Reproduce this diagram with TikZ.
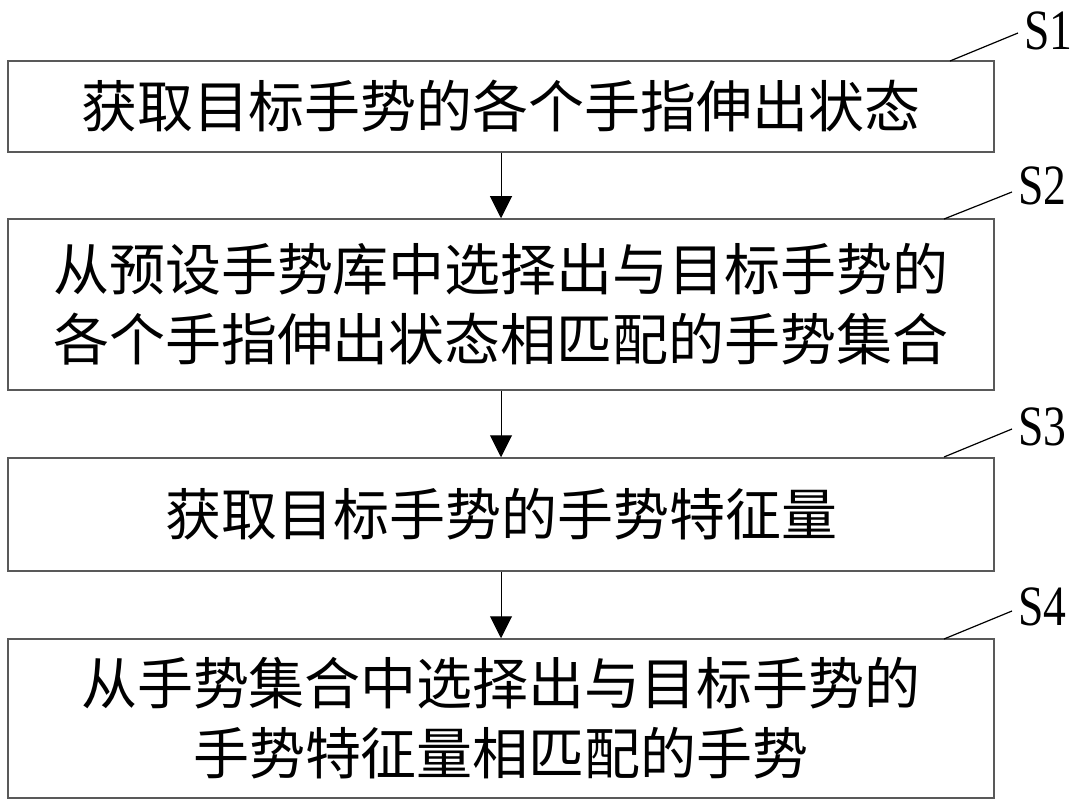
\documentclass[tikz,border=0pt]{standalone}
\usepackage{fontspec}
\usetikzlibrary{arrows.meta}
\newfontfamily\cjk{Noto Sans CJK SC}
\newfontfamily\lblfont[FakeStretch=0.8]{Liberation Serif}
\tikzset{
  stepbox/.style={draw=black!65, line width=1.5pt, rectangle, inner sep=0pt,
    minimum width=986pt, align=center, font=\cjk\fontsize{56}{70}\selectfont},
  flow/.style={line width=1pt, -{Triangle[width=22pt,length=22pt]}},
  leader/.style={line width=1.2pt},
  steplabel/.style={anchor=base west, inner sep=0pt, font=\lblfont\fontsize{57}{57}\selectfont}
}
\begin{document}
\begin{tikzpicture}[x=1pt,y=-1pt]
\useasboundingbox (0,0) rectangle (1085,810);
\node[stepbox, minimum height=91pt] (b1) at (501,106.5) {获取目标手势的各个手指伸出状态};
\node[stepbox, minimum height=171pt] (b2) at (501,304.5) {从预设手势库中选择出与目标手势的\\各个手指伸出状态相匹配的手势集合};
\node[stepbox, minimum height=113pt] (b3) at (501,514.5) {获取目标手势的手势特征量};
\node[stepbox, minimum height=159pt] (b4) at (501,718.5) {从手势集合中选择出与目标手势的\\手势特征量相匹配的手势};
\draw[flow] (b1.south) -- (b2.north);
\draw[flow] (b2.south) -- (b3.north);
\draw[flow] (b3.south) -- (b4.north);
\coordinate (l1a) at (950,61);  \coordinate (l1b) at (1018,33);
\coordinate (l2a) at (944,219); \coordinate (l2b) at (1012,192);
\coordinate (l3a) at (944,457); \coordinate (l3b) at (1012,429);
\coordinate (l4a) at (944,639); \coordinate (l4b) at (1012,611);
\draw[leader] (l1a) -- (l1b);
\draw[leader] (l2a) -- (l2b);
\draw[leader] (l3a) -- (l3b);
\draw[leader] (l4a) -- (l4b);
\node[steplabel] (s1) at (1024,50) {S1};
\node[steplabel] (s2) at (1018,205) {S2};
\node[steplabel] (s3) at (1018,445) {S3};
\node[steplabel] (s4) at (1018,625) {S4};
\end{tikzpicture}
\end{document}
